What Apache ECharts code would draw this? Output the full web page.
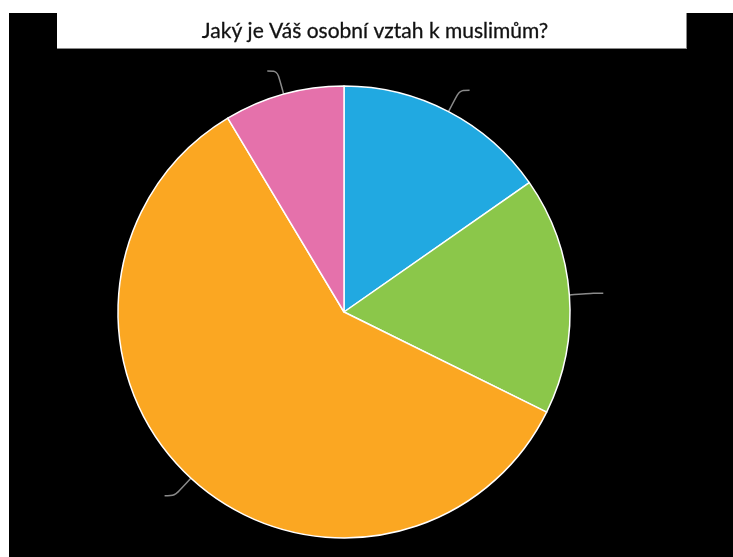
<!DOCTYPE html>
<html>
<head>
<meta charset="utf-8">
<script src="https://cdn.jsdelivr.net/npm/echarts@6/dist/echarts.min.js"></script>
<style>
  html, body { margin: 0; padding: 0; background: #ffffff; }
  #chart { width: 733px; height: 557px; }
</style>
</head>
<body>
<div id="chart"></div>
<script>
// Survey answers: share of respondents per answer (percent)
const categories = ['Odpověď A', 'Odpověď B', 'Odpověď C', 'Odpověď D'];
const shares = [15.3, 17.0, 59.1, 8.6];
const colors = ['#21a9e1', '#8bc74a', '#fba722', '#e571ab'];
const titleText = 'Jaký je Váš osobní vztah k muslimům?';

const chart = echarts.init(document.getElementById('chart'), null, { renderer: 'canvas' });

chart.setOption({
  backgroundColor: '#ffffff',
  animation: false,
  graphic: [
    // dark canvas area
    { type: 'rect', shape: { x: 9, y: 13, width: 724, height: 544 }, style: { fill: '#000000' }, z: -10 },
    // title panel
    { type: 'rect', shape: { x: 57, y: 13, width: 630, height: 35 }, style: { fill: '#ffffff' }, z: -9 },
    { type: 'line', shape: { x1: 57, y1: 48.5, x2: 687, y2: 48.5 }, style: { stroke: '#8a8a8a', lineWidth: 1 }, z: -9 },
    { type: 'line', shape: { x1: 686.5, y1: 13, x2: 686.5, y2: 49 }, style: { stroke: '#8a8a8a', lineWidth: 1 }, z: -9 }
  ],
  title: {
    text: titleText,
    left: 370,
    top: 16,
    textAlign: 'center',
    textStyle: {
      fontFamily: 'Lato', fontSize: 21, fontWeight: 'normal', color: '#111111',
      textBorderColor: '#111111', textBorderWidth: 0.3
    }
  },
  series: [{
    type: 'pie',
    center: [344, 312],
    radius: 226,
    startAngle: 90,
    clockwise: true,
    color: colors,
    itemStyle: { borderColor: '#ffffff', borderWidth: 1.5 },
    label: { show: true, formatter: ' ', color: '#000000' },
    labelLine: {
      show: true,
      length: 24,
      length2: 10,
      smooth: 0.3,
      lineStyle: { color: '#8a8a8a', width: 1.5 }
    },
    data: categories.map((name, i) => ({ name: name, value: shares[i] }))
  }]
});
</script>
</body>
</html>
